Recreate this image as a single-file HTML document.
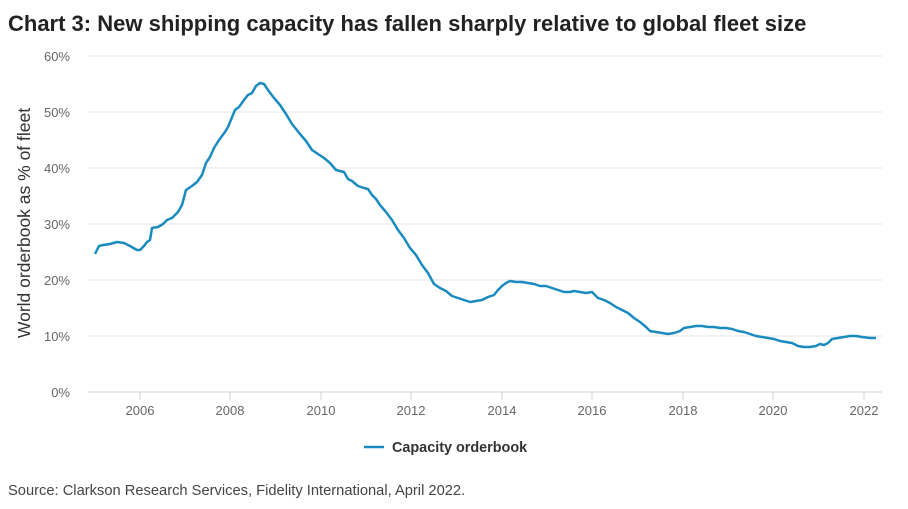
<!DOCTYPE html>
<html><head><meta charset="utf-8"><style>
body{margin:0;background:#fff;width:908px;height:504px;overflow:hidden;font-family:"Liberation Sans",Arial,sans-serif}
</style></head><body>
<svg width="908" height="504" xmlns="http://www.w3.org/2000/svg" font-family="Liberation Sans, Arial, sans-serif">
<text x="8" y="31" font-size="22" font-weight="bold" fill="#222">Chart 3: New shipping capacity has fallen sharply relative to global fleet size</text>
<g stroke="#e3e3e8" stroke-width="1">
<line x1="88" x2="882" y1="56" y2="56"/><line x1="88" x2="882" y1="112" y2="112"/>
<line x1="88" x2="882" y1="168" y2="168"/><line x1="88" x2="882" y1="224" y2="224"/>
<line x1="88" x2="882" y1="280" y2="280"/><line x1="88" x2="882" y1="336" y2="336"/>
</g>
<line x1="88" x2="882" y1="392" y2="392" stroke="#cdd0d8" stroke-width="1"/>
<g stroke="#cdd0d8"><line x1="140" x2="140" y1="392" y2="400"/><line x1="230" x2="230" y1="392" y2="400"/><line x1="321" x2="321" y1="392" y2="400"/><line x1="411" x2="411" y1="392" y2="400"/><line x1="502" x2="502" y1="392" y2="400"/><line x1="592" x2="592" y1="392" y2="400"/><line x1="683" x2="683" y1="392" y2="400"/><line x1="773" x2="773" y1="392" y2="400"/><line x1="864" x2="864" y1="392" y2="400"/></g>
<g font-size="13" fill="#666" text-anchor="end">
<text x="70" y="61">60%</text><text x="70" y="117">50%</text><text x="70" y="173">40%</text><text x="70" y="229">30%</text><text x="70" y="285">20%</text><text x="70" y="341">10%</text><text x="70" y="397">0%</text>
</g>
<g font-size="13" fill="#666" text-anchor="middle">
<text x="140" y="415">2006</text><text x="230" y="415">2008</text><text x="321" y="415">2010</text><text x="411" y="415">2012</text><text x="502" y="415">2014</text><text x="592" y="415">2016</text><text x="683" y="415">2018</text><text x="773" y="415">2020</text><text x="864" y="415">2022</text>
</g>
<text transform="translate(30,223) rotate(-90)" font-size="17.5" fill="#333" text-anchor="middle">World orderbook as % of fleet</text>
<polyline fill="none" stroke="#1a8bbf" stroke-width="2.5" stroke-linejoin="round" points="95,254 99,246 103,245 110,244 117,242 124,243 130,246 137,250 140,250 144,246 147,242 150,240 152,228 158,227 163,224 167,220 172,218 178,212 182,205 186,190 192,186 197,182 202,175 206,163 210,157 214,148 219,140 225,132 228,127 235,110 239,107 244,100 248,95 252,93 256,86 260,83 264,84 268,90 274,98 280,105 286,114 292,124 300,134 306,141 312,150 318,154 324,158 330,163 336,170 344,172 348,179 352,181 358,186 364,188 368,189 372,195 376,199 380,205 386,212 392,220 398,230 404,238 410,248 416,255 422,265 428,273 434,284 440,288 446,291 452,296 458,298 464,300 470,302 476,301 482,300 488,297 494,295 498,290 502,286 506,283 510,281 516,282 522,282 528,283 534,284 540,286 546,286 552,288 558,290 564,292 570,292 574,291 580,292 586,293 592,292 598,298 604,300 610,303 616,307 622,310 628,313 634,318 640,322 646,327 650,331 656,332 662,333 668,334 674,333 680,331 684,328 690,327 696,326 702,326 708,327 714,327 720,328 726,328 732,329 738,331 744,332 750,334 756,336 762,337 768,338 774,339 780,341 786,342 792,343 798,346 804,347 810,347 816,346 820,344 824,345 828,343 832,339 838,338 844,337 850,336 856,336 862,337 870,338 876,338"/>
<line x1="364" x2="384" y1="447" y2="447" stroke="#1a8bbf" stroke-width="2.5"/>
<text x="392" y="452" font-size="14.4" font-weight="bold" fill="#333">Capacity orderbook</text>
<text x="8" y="495" font-size="14.7" fill="#444">Source: Clarkson Research Services, Fidelity International, April 2022.</text>
</svg>
</body></html>
